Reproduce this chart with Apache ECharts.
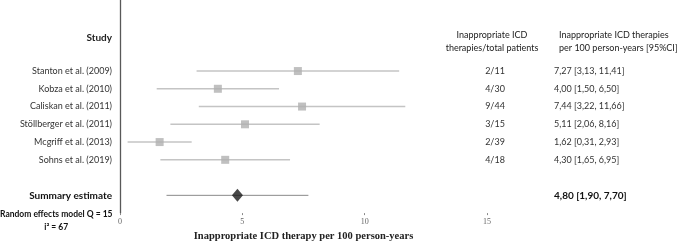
<!DOCTYPE html>
<html>
<head>
<meta charset="utf-8">
<script src="https://cdn.jsdelivr.net/npm/echarts@6/dist/echarts.min.js"></script>
<style>
  html, body { margin: 0; padding: 0; background: #fff; }
  #chart { width: 677px; height: 247px; }
</style>
</head>
<body>
<div id="chart"></div>
<script>
// studies, point estimates and 95% CI (per 100 person-years)
const studies = ['Stanton et al. (2009)', 'Kobza et al. (2010)', 'Caliskan et al. (2011)',
  'Stöllberger et al. (2011)', 'Mcgriff et al. (2013)', 'Sohns et al. (2019)']
const estimates = [7.27, 4.00, 7.44, 5.11, 1.62, 4.30]
const lower = [3.13, 1.50, 3.22, 2.06, 0.31, 1.65]
const upper = [11.41, 6.50, 11.66, 8.16, 2.93, 6.95]
const patients = ['2/11', '4/30', '9/44', '3/15', '2/39', '4/18']
const ciText = ['7,27 [3,13, 11,41]', '4,00 [1,50, 6,50]', '7,44 [3,22, 11,66]',
  '5,11 [2,06, 8,16]', '1,62 [0,31, 2,93]', '4,30 [1,65, 6,95]']
const summary = { label: 'Summary estimate', est: 4.80, low: 1.90, high: 7.70, text: '4,80 [1,90, 7,70]' }
const xTicks = [0, 5, 10, 15]

const sans = 'Lato'
const serif = 'Liberation Serif'

// rows: 4 empty slots on top (header space), studies, gap, summary, bottom slot
const pad = ['', '', '', '']
const rowNames = pad.concat(studies, ['', '', ''])
const rowPatients = pad.concat(patients, ['', '', ''])
const rowCi = pad.concat(ciText, ['', summary.text, ''])
const firstRow = pad.length
const summaryRow = firstRow + studies.length + 1
rowNames[summaryRow] = summary.label

let whiskers = studies.map((s, i) => [lower[i], upper[i], firstRow + i, 0])
whiskers.push([summary.low, summary.high, summaryRow, 1])
let points = studies.map((s, i) => [estimates[i], firstRow + i])

let chart = echarts.init(document.getElementById('chart'))
chart.setOption({
  animation: false,
  grid: { left: 120, right: 190, top: 0, bottom: 28 },
  xAxis: {
    type: 'value',
    min: xTicks[0],
    max: xTicks[xTicks.length - 1],
    interval: 5,
    splitLine: { show: false },
    axisLine: { lineStyle: { color: '#595959', width: 1.3 } },
    axisTick: { show: true, length: 2, lineStyle: { color: '#888' } },
    axisLabel: { fontFamily: serif, fontSize: 8, color: '#666', margin: 5 },
    name: 'Inappropriate ICD therapy per 100 person-years',
    nameLocation: 'middle',
    nameGap: 16,
    nameTextStyle: { fontFamily: serif, fontSize: 10.5, fontWeight: 'bold', color: '#222' }
  },
  yAxis: [
    {
      type: 'category',
      data: rowNames,
      inverse: true,
      boundaryGap: false,
      axisLine: { lineStyle: { color: '#595959', width: 1.3 } },
      axisTick: { show: false },
      axisLabel: {
        interval: 0,
        margin: 8,
        fontFamily: sans,
        fontSize: 9,
        color: '#333',
        formatter: v => v === summary.label ? '{b|' + v + '}' : v,
        rich: { b: { fontFamily: sans, fontSize: 10, fontWeight: 'bold', color: '#111' } }
      }
    },
    {
      type: 'category',
      data: rowPatients,
      inverse: true,
      boundaryGap: false,
      position: 'right',
      axisLine: { show: false },
      axisTick: { show: false },
      axisLabel: { interval: 0, margin: 8, align: 'center', fontFamily: sans, fontSize: 9, color: '#333' }
    },
    {
      type: 'category',
      data: rowCi,
      inverse: true,
      boundaryGap: false,
      position: 'right',
      axisLine: { show: false },
      axisTick: { show: false },
      axisLabel: {
        interval: 0,
        margin: 67,
        align: 'left',
        fontFamily: sans,
        fontSize: 9,
        color: '#333',
        formatter: v => v === summary.text ? '{b|' + v + '}' : v,
        rich: { b: { fontFamily: sans, fontSize: 10, fontWeight: 'bold', color: '#111' } }
      }
    }
  ],
  graphic: [
    { type: 'text', right: 677 - 112, top: 33, style: { text: 'Study', fontFamily: sans, fontSize: 10, fontWeight: 'bold', fill: '#222', textAlign: 'right' } },
    { type: 'text', left: 440, top: 29, style: { text: 'Inappropriate ICD\ntherapies/total patients', fontFamily: sans, fontSize: 9, lineHeight: 13, fill: '#222', textAlign: 'center', width: 104 } },
    { type: 'text', left: 559, top: 29, style: { text: 'Inappropriate ICD therapies\nper 100 person-years [95%CI]', fontFamily: sans, fontSize: 9, lineHeight: 13, fill: '#222' } },
    { type: 'text', left: 0, top: 208, style: { text: 'Random effects model Q = 15\ni² = 67', fontFamily: sans, fontSize: 8.5, fontWeight: 'bold', lineHeight: 13, fill: '#111', textAlign: 'center', width: 112 } }
  ],
  series: [
    {
      type: 'custom',
      data: whiskers,
      renderItem: (params, api) => {
        let a = api.coord([api.value(0), api.value(2)])
        let b = api.coord([api.value(1), api.value(2)])
        let isSummary = api.value(3) === 1
        return {
          type: 'line',
          shape: { x1: a[0], y1: a[1], x2: b[0], y2: b[1] },
          style: { stroke: isSummary ? '#8a8a8a' : '#c4c4c4', lineWidth: isSummary ? 1 : 1.5 }
        }
      },
      encode: { x: [0, 1], y: 2 },
      z: 1
    },
    {
      type: 'scatter',
      data: points,
      symbol: 'rect',
      symbolSize: 8,
      itemStyle: { color: '#b0b0b0' },
      z: 2
    },
    {
      type: 'scatter',
      data: [[summary.est, summaryRow]],
      symbol: 'diamond',
      symbolSize: [11, 13],
      itemStyle: { color: '#1a1a1a' },
      z: 3
    }
  ]
})
</script>
</body>
</html>
